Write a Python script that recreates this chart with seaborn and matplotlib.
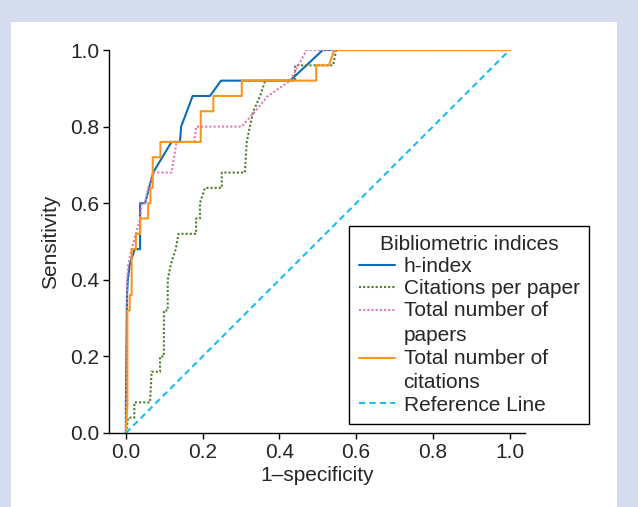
import matplotlib
matplotlib.use("Agg")
import matplotlib.pyplot as plt
import matplotlib.patches as mpatches
from matplotlib.legend_handler import HandlerLine2D
import numpy as np
import pandas as pd
import seaborn as sns

# ROC curves (x = 1-specificity, y = sensitivity)
h_index_x = [0, 0, 0.003, 0.005, 0.010, 0.023, 0.037, 0.037, 0.050, 0.071, 0.119, 0.141, 0.144, 0.174, 0.219, 0.248, 0.428, 0.513, 1.0]
h_index_y = [0, 0.08, 0.36, 0.40, 0.44, 0.48, 0.48, 0.60, 0.60, 0.68, 0.76, 0.76, 0.80, 0.88, 0.88, 0.92, 0.92, 1.0, 1.0]

cpp_x = [0, 0.006, 0.022, 0.022, 0.063, 0.067, 0.089, 0.089, 0.099, 0.099, 0.109, 0.109, 0.117, 0.130, 0.137, 0.183, 0.183, 0.193, 0.193, 0.206, 0.250, 0.250, 0.310, 0.315, 0.323, 0.332, 0.350, 0.363, 0.441, 0.441, 0.540, 0.548, 1.0]
cpp_y = [0, 0.04, 0.04, 0.08, 0.08, 0.16, 0.16, 0.20, 0.20, 0.32, 0.32, 0.40, 0.44, 0.48, 0.52, 0.52, 0.56, 0.56, 0.60, 0.64, 0.64, 0.68, 0.68, 0.76, 0.80, 0.84, 0.88, 0.92, 0.92, 0.96, 0.96, 1.0, 1.0]

papers_x = [0, 0.003, 0.006, 0.015, 0.026, 0.037, 0.041, 0.050, 0.058, 0.071, 0.119, 0.132, 0.178, 0.183, 0.302, 0.337, 0.370, 0.428, 0.471, 1.0]
papers_y = [0, 0.40, 0.44, 0.48, 0.52, 0.56, 0.60, 0.60, 0.64, 0.68, 0.68, 0.76, 0.76, 0.80, 0.80, 0.84, 0.88, 0.92, 1.0, 1.0]

cites_x = [0, 0.004, 0.004, 0.010, 0.010, 0.015, 0.015, 0.026, 0.026, 0.037, 0.037, 0.058, 0.058, 0.064, 0.064, 0.070, 0.070, 0.090, 0.090, 0.195, 0.195, 0.228, 0.228, 0.302, 0.302, 0.496, 0.496, 0.529, 0.543, 1.0]
cites_y = [0, 0.08, 0.32, 0.32, 0.36, 0.36, 0.48, 0.48, 0.52, 0.52, 0.56, 0.56, 0.60, 0.60, 0.64, 0.64, 0.72, 0.72, 0.76, 0.76, 0.84, 0.84, 0.88, 0.88, 0.92, 0.92, 0.96, 0.96, 1.0, 1.0]

ref_x = [0, 1.0]
ref_y = [0, 1.0]

names = ["h-index", "Citations per paper", "Total number of\npapers",
         "Total number of\ncitations", "Reference Line"]
colors = ["#0b6db5", "#4e7c2c", "#e277bd", "#f7961e", "#19bdf0"]
dashes = ["", (1, 1), (1, 1), "", (3, 2)]

series = [(h_index_x, h_index_y), (cpp_x, cpp_y), (papers_x, papers_y),
          (cites_x, cites_y), (ref_x, ref_y)]


class TopLineHandler(HandlerLine2D):
    """Put the legend line level with the first line of a wrapped label."""
    def __init__(self, dy=0, **kw):
        super().__init__(**kw)
        self.dy = dy

    def create_artists(self, legend, orig_handle, xdescent, ydescent,
                       width, height, fontsize, trans):
        arts = super().create_artists(legend, orig_handle, xdescent, ydescent,
                                      width, height, fontsize, trans)
        for a in arts:
            a.set_ydata(np.asarray(a.get_ydata()) + self.dy)
        return arts


frames = []
for name, (xs, ys) in zip(names, series):
    frames.append(pd.DataFrame({"x": xs, "y": ys, "index": name}))
df = pd.concat(frames, ignore_index=True)

sns.set_style("ticks")
plt.rcParams["font.family"] = ["Liberation Sans", "DejaVu Sans"]
FS = 15

fig = plt.figure(figsize=(6.38, 5.07), dpi=100)
fig.patch.set_facecolor("#d5dcee")
fig.patches.append(mpatches.Rectangle((11 / 638, 0), 606 / 638, 485 / 507,
                                      transform=fig.transFigure,
                                      facecolor="white", edgecolor="none", zorder=-10))

ax = fig.add_axes([109 / 638, 74 / 507, 416 / 638, 383 / 507])
ax.set_facecolor("none")

sns.lineplot(data=df, x="x", y="y", hue="index", style="index",
             hue_order=names, style_order=names,
             palette=dict(zip(names, colors)), dashes=dict(zip(names, dashes)),
             estimator=None, sort=False, linewidth=1.5, ax=ax)

ax.set_xlim(-0.044, 1.04)
ax.set_ylim(0, 1.0)
ax.set_xticks([0, 0.2, 0.4, 0.6, 0.8, 1.0])
ax.set_yticks([0, 0.2, 0.4, 0.6, 0.8, 1.0])
ax.set_xticklabels(["0.0", "0.2", "0.4", "0.6", "0.8", "1.0"])
ax.set_yticklabels(["0.0", "0.2", "0.4", "0.6", "0.8", "1.0"])
ax.tick_params(labelsize=FS, length=4, width=1, color="black", pad=3)
sns.despine(ax=ax)
for s in ["left", "bottom"]:
    ax.spines[s].set_linewidth(1)
    ax.spines[s].set_color("black")
ax.set_xlabel("1\u2013specificity", fontsize=FS, labelpad=3)
ax.set_ylabel("Sensitivity", fontsize=FS, labelpad=7)

handles, labels = ax.get_legend_handles_labels()
ax.get_legend().remove()
hmap = {h: TopLineHandler(dy=9.5) for h, l in zip(handles, labels) if "\n" in l}
leg = ax.legend(handles, labels, title="Bibliometric indices", fontsize=FS,
                title_fontsize=FS, loc="lower right", handler_map=hmap,
                bbox_to_anchor=(589 / 638, 83 / 507), bbox_transform=fig.transFigure,
                frameon=True, fancybox=False, edgecolor="black", framealpha=1,
                handlelength=1.75, handletextpad=0.4, labelspacing=0.15,
                borderpad=0.45, borderaxespad=0)
leg.get_frame().set_linewidth(1)
for t in leg.get_texts():
    t.set_linespacing(1.4)

fig.savefig("out.png", dpi=100, facecolor=fig.get_facecolor())
